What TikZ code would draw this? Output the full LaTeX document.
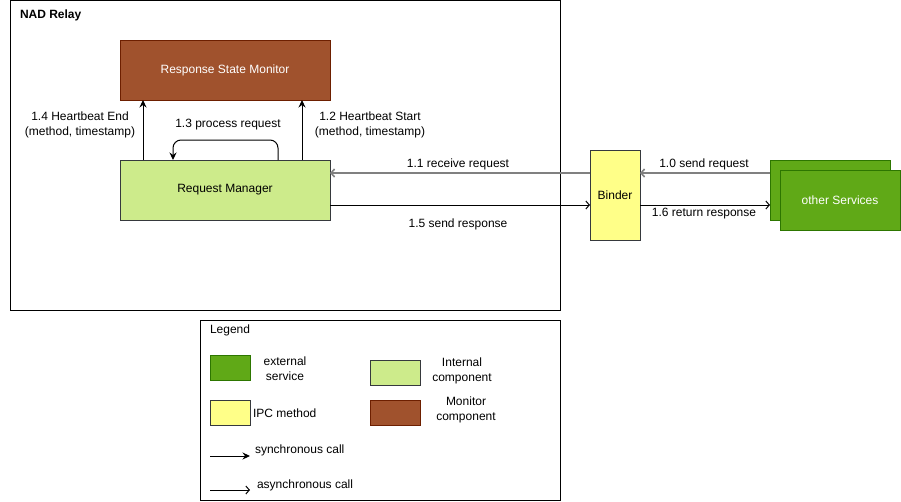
\documentclass[tikz,border=0pt]{standalone}
\usepackage{fontspec}
\setmainfont{Liberation Sans}
\usetikzlibrary{arrows.meta}
\definecolor{rsmfill}{HTML}{A0522D}
\definecolor{rsmdraw}{HTML}{6D1F00}
\definecolor{rmfill}{HTML}{CDEB8B}
\definecolor{rmdraw}{HTML}{36393D}
\definecolor{bfill}{HTML}{FFFF88}
\definecolor{svcfill}{HTML}{60A917}
\definecolor{svcdraw}{HTML}{2D7600}
\definecolor{arrgray}{HTML}{808080}
\begin{document}
\begin{tikzpicture}[x=1pt,y=-1pt,
  font=\fontsize{12}{15}\selectfont,
  every node/.style={inner sep=0pt,outer sep=0pt},
  blk/.style={draw,line width=1pt,minimum width=#1},
  rsmbox/.style={blk=210pt,minimum height=60pt,fill=rsmfill,draw=rsmdraw,text=white},
  rmbox/.style={blk=210pt,minimum height=60pt,fill=rmfill,draw=rmdraw},
  binderbox/.style={blk=50pt,minimum height=90pt,fill=bfill,draw=rmdraw},
  svcbox/.style={blk=120pt,minimum height=60pt,fill=svcfill,draw=svcdraw,text=white},
  frame/.style={draw,line width=1pt},
  sync/.style={line width=1pt,-{Stealth[length=7.5pt,width=7pt,inset=2.5pt]}},
  async/.style={line width=1pt,-{Straight Barb[length=3.5pt,width=8pt]}},
  asyncg/.style={async,draw=arrgray,line width=1.6pt},
  lbl/.style={align=center}
]
\useasboundingbox (0,0) rectangle (901,501);

% containers
\node[frame,minimum width=550pt,minimum height=309.5pt] (relay) at (285,155.25) {};
\node[font=\fontsize{12}{15}\selectfont\bfseries,anchor=west] (relaylbl) at (20,15) {NAD Relay};

\node[frame,minimum width=360pt,minimum height=180pt] (legend) at (380,410) {};
\node[anchor=west] (legendlbl) at (210,330) {Legend};

% main nodes
\node[rsmbox] (rsm) at (225,70) {Response State Monitor};
\node[rmbox] (rm) at (225,190) {Request Manager};
\node[binderbox] (binder) at (615,195) {Binder};
\node[svcbox] (svcback) at (830,190) {};
\node[svcbox] (svc) at (840,200) {other Services};

% vertical arrows
\draw[sync] ([xshift=23pt]rm.north west) -- ([xshift=23pt]rsm.south west);
\draw[sync] ([xshift=-28pt]rm.north east) -- ([xshift=-28pt]rsm.south east);
\draw[sync,rounded corners=8pt] ([xshift=-52pt]rm.north east) -- ++(0,-20) -| ([xshift=53pt]rm.north west);

\node[lbl] (l14) at (80,125) {1.4 Heartbeat End\\(method, timestamp)};
\node[lbl] (l12) at (370,125) {1.2 Heartbeat Start\\(method, timestamp)};
\node (l13) at (228,125) {1.3 process request};

% horizontal arrows
\draw[asyncg] ([yshift=22pt]binder.west) -- ([yshift=22pt]binder.west -| rm.east);
\draw[async] ([yshift=-15pt]rm.east) -- ([yshift=-15pt]rm.east -| binder.west);
\draw[asyncg] ([yshift=17pt]svcback.west) -- ([yshift=17pt]svcback.west -| binder.east);
\draw[async] ([yshift=-10pt]binder.east) -- ([yshift=-10pt]binder.east -| svcback.west);

\node (l11) at (458,164) {1.1 receive request};
\node (l15) at (458,224) {1.5 send response};
\node (l10) at (704,164) {1.0 send request};
\node (l16) at (704,214) {1.6 return response};

% legend items
\node[blk=40pt,minimum height=25pt,fill=svcfill,draw=svcdraw] (lgsvc) at (230,367.5) {};
\node[lbl] (lgsvct) at (285,368.5) {external\\service};
\node[blk=50pt,minimum height=25pt,fill=rmfill,draw=rmdraw] (lgrm) at (395,372.5) {};
\node[lbl] (lgrmt) at (462,370.5) {Internal\\component};
\node[blk=40pt,minimum height=25pt,fill=bfill,draw=rmdraw] (lgb) at (230,412.5) {};
\node[anchor=west] (lgbt) at (253,413) {IPC method};
\node[blk=50pt,minimum height=25pt,fill=rsmfill,draw=rsmdraw] (lgrsm) at (395,412.5) {};
\node[lbl] (lgrsmt) at (466,410) {Monitor\\component};

\coordinate (s1) at (210,456);
\coordinate (s2) at (250,456);
\draw[sync] (s1) -- (s2);
\node[anchor=west] (lgsync) at (255,450) {synchronous call};
\coordinate (a1) at (210,490);
\coordinate (a2) at (250,490);
\draw[async] (a1) -- (a2);
\node[anchor=west] (lgasync) at (257,485) {asynchronous call};
\end{tikzpicture}
\end{document}
